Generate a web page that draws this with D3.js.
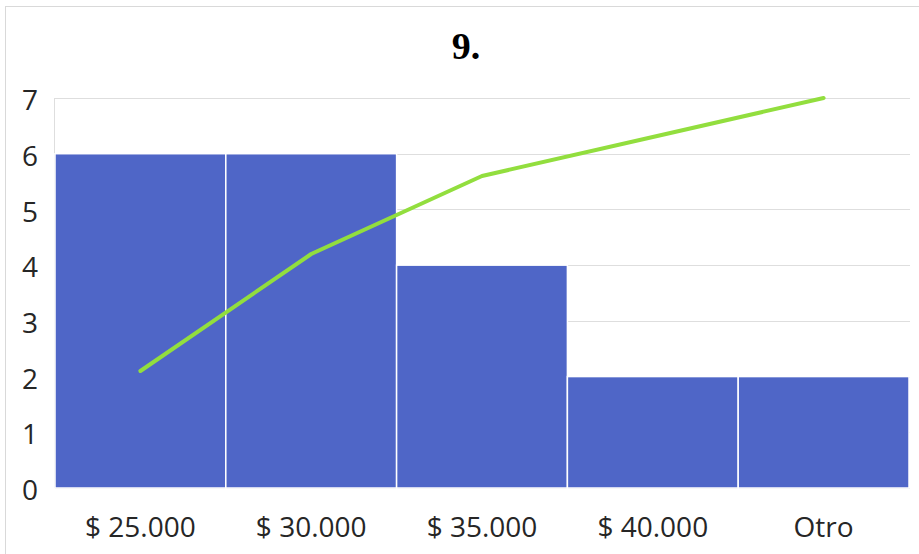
<!DOCTYPE html>
<html>
<head>
<meta charset="utf-8">
<script src="https://cdn.jsdelivr.net/npm/d3@7"></script>
<style>
  html, body { margin: 0; padding: 0; background: #fff; }
  svg { display: block; }
</style>
</head>
<body>
<svg id="chart" width="919" height="554"></svg>
<script>
// Histogram categories (price classes) and their frequencies
const categories = ["$ 25.000", "$ 30.000", "$ 35.000", "$ 40.000", "Otro"];
const frequencies = [6, 6, 4, 2, 2];
// Cumulative percentage (secondary axis, not shown)
const cumulativePct = [30, 60, 80, 90, 100];
const yTicks = [0, 1, 2, 3, 4, 5, 6, 7];
const title = "9.";

const W = 919, H = 554;
const margin = { left: 55, right: 10, top: 98, bottom: 66 };
const svg = d3.select("#chart");
const labelFont = "'Open Sans', 'Noto Sans', sans-serif";

// Chart border
svg.append("rect")
  .attr("x", 5.5).attr("y", 6.5)
  .attr("width", W - 5).attr("height", H)
  .attr("fill", "#fff")
  .attr("stroke", "#d9d9d9").attr("stroke-width", 1);

const x = d3.scaleBand()
  .domain(categories)
  .range([margin.left, W - margin.right])
  .padding(0);

const y = d3.scaleLinear()
  .domain([0, 7])
  .range([H - margin.bottom, margin.top]);

const y2 = d3.scaleLinear()
  .domain([0, 100])
  .range([H - margin.bottom, margin.top]);

// Gridlines
svg.append("g")
  .selectAll("line")
  .data(yTicks)
  .join("line")
  .attr("x1", margin.left).attr("x2", W - margin.right + 1)
  .attr("y1", d => Math.round(y(d)) + 0.5)
  .attr("y2", d => Math.round(y(d)) + 0.5)
  .attr("stroke", "#dedede").attr("stroke-width", 1);

// Value axis line
svg.append("line")
  .attr("x1", margin.left - 0.5).attr("x2", margin.left - 0.5)
  .attr("y1", y(7)).attr("y2", y(0))
  .attr("stroke", "#dedede");

// Bars
svg.append("g")
  .selectAll("rect")
  .data(frequencies)
  .join("rect")
  .attr("x", (d, i) => x(categories[i]))
  .attr("y", d => y(d))
  .attr("width", x.bandwidth())
  .attr("height", d => y(0) - y(d))
  .attr("fill", "#4F66C7")
  .attr("stroke", "#ffffff")
  .attr("stroke-width", 1.5);

// Cumulative line
const line = d3.line()
  .x((d, i) => x(categories[i]) + x.bandwidth() / 2)
  .y(d => y2(d));

svg.append("path")
  .datum(cumulativePct)
  .attr("d", line)
  .attr("fill", "none")
  .attr("stroke", "#92DE3E")
  .attr("stroke-width", 4)
  .attr("stroke-linecap", "round")
  .attr("stroke-linejoin", "round");

// Y axis labels
svg.append("g")
  .selectAll("text")
  .data(yTicks)
  .join("text")
  .attr("x", 38)
  .attr("y", d => y(d) + 2)
  .attr("dy", "0.36em")
  .attr("text-anchor", "end")
  .attr("font-family", labelFont)
  .attr("font-size", 28)
  .attr("fill", "#262626")
  .text(d => d);

// X axis labels
svg.append("g")
  .selectAll("text")
  .data(categories)
  .join("text")
  .attr("x", d => x(d) + x.bandwidth() / 2)
  .attr("y", 537)
  .attr("text-anchor", "middle")
  .attr("font-family", labelFont)
  .attr("font-size", 28)
  .attr("fill", "#262626")
  .text(d => d);

// Title
svg.append("text")
  .attr("x", 466)
  .attr("y", 59)
  .attr("text-anchor", "middle")
  .attr("font-family", "'Liberation Serif', 'Times New Roman', serif")
  .attr("font-size", 38)
  .attr("font-weight", "bold")
  .attr("fill", "#000")
  .text(title);
</script>
</body>
</html>
